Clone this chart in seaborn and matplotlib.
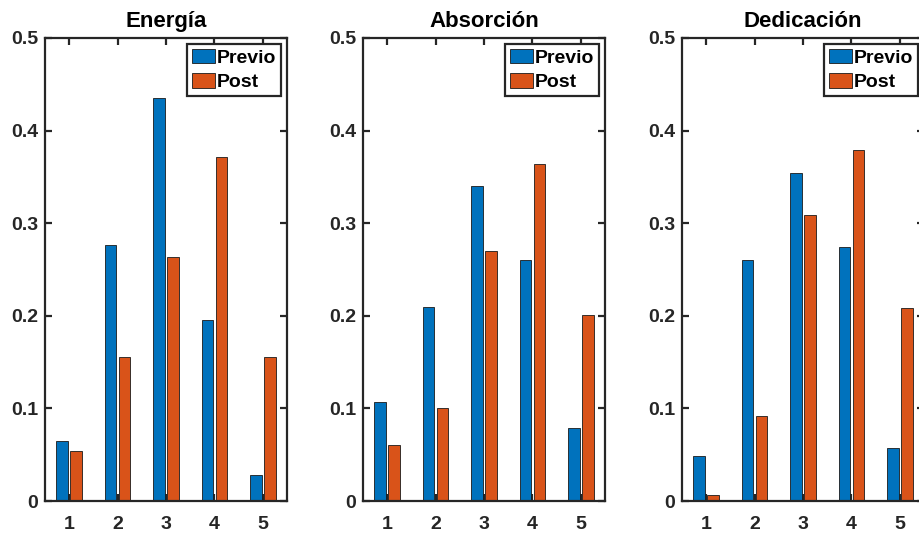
import pandas as pd
import seaborn as sns
import matplotlib
matplotlib.use("Agg")
import matplotlib.pyplot as plt
from matplotlib.patches import Patch

# datos
niveles = [1, 2, 3, 4, 5]
titulos = ["Energía", "Absorción", "Dedicación"]
energia_previo = [0.065, 0.276, 0.435, 0.196, 0.028]
energia_post = [0.054, 0.155, 0.263, 0.372, 0.155]
absorcion_previo = [0.107, 0.209, 0.340, 0.260, 0.079]
absorcion_post = [0.061, 0.100, 0.270, 0.364, 0.201]
dedicacion_previo = [0.049, 0.260, 0.354, 0.274, 0.057]
dedicacion_post = [0.006, 0.092, 0.309, 0.379, 0.208]
grupos = ["Previo", "Post"]
colores = ["#0072BD", "#D95319"]

sns.set_style("ticks")
plt.rcParams["font.family"] = ["Liberation Sans", "DejaVu Sans"]
plt.rcParams["font.weight"] = "bold"

W, H = 919, 534
fig = plt.figure(figsize=(W / 100, H / 100), dpi=100)

# posiciones de los ejes en pixeles (izq, der); el tercero se sale del lienzo
lados = [(45, 287), (363, 605), (682, 924)]
top, bottom = 38, 501

series = [
    (energia_previo, energia_post),
    (absorcion_previo, absorcion_post),
    (dedicacion_previo, dedicacion_post),
]

for (x0, x1), titulo, (previo, post) in zip(lados, titulos, series):
    ax = fig.add_axes([x0 / W, 1 - bottom / H, (x1 - x0) / W, (bottom - top) / H])
    df = pd.DataFrame({
        "nivel": niveles * 2,
        "valor": previo + post,
        "grupo": ["Previo"] * 5 + ["Post"] * 5,
    })
    sns.barplot(
        data=df, x="nivel", y="valor", hue="grupo", hue_order=grupos,
        palette=colores, width=0.58, gap=0.17, saturation=1,
        edgecolor="#1a1a1a", linewidth=0.6, ax=ax, legend=False,
    )
    ax.set_xlim(-0.5, 4.5)
    ax.set_ylim(0, 0.5)
    ax.set_yticks([0, 0.1, 0.2, 0.3, 0.4, 0.5])
    ax.set_yticklabels(["0", "0.1", "0.2", "0.3", "0.4", "0.5"])
    ax.set_xticks(range(5))
    ax.set_xticklabels([str(n) for n in niveles])
    ax.set_xlabel("")
    ax.set_ylabel("")
    for s in ax.spines.values():
        s.set_visible(True)
        s.set_color("#262626")
        s.set_linewidth(1.6)
    ax.tick_params(direction="in", length=5, width=1.6, color="#262626",
                   top=True, right=True, labelsize=14, labelcolor="#262626")
    ax.tick_params(axis="y", pad=5)
    ax.tick_params(axis="x", pad=11)
    for lbl in ax.get_xticklabels() + ax.get_yticklabels():
        lbl.set_fontweight("bold")
    ax.set_title(titulo, fontsize=16, fontweight="bold", pad=8, color="black")

    handles = [Patch(facecolor=c, edgecolor="#1a1a1a", linewidth=0.6) for c in colores]
    leg = ax.legend(handles, grupos, loc="upper right", fontsize=14,
                    frameon=True, fancybox=False, framealpha=1,
                    handlelength=1.2, handleheight=0.75, handletextpad=0.1,
                    borderpad=0.25, labelspacing=0.35, borderaxespad=0.3)
    leg.get_frame().set_edgecolor("#262626")
    leg.get_frame().set_linewidth(1.6)
    for t in leg.get_texts():
        t.set_fontweight("bold")
        t.set_color("black")

fig.savefig("out.png", dpi=100)
